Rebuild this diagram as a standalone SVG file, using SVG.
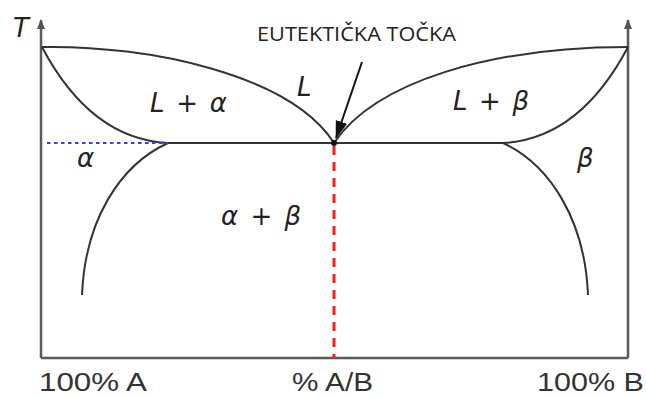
<svg xmlns="http://www.w3.org/2000/svg" width="646" height="398" viewBox="0 0 646 398">
<style>
.axis{stroke:#5a5a5a;stroke-width:2.5;fill:none}
.curve{stroke:#333;stroke-width:2;fill:none}
.lbl{font-family:"DejaVu Sans",sans-serif;font-style:italic;fill:#222;font-size:26px}
.ax{font-family:"Liberation Sans",Arial,sans-serif;fill:#333;font-size:26px}
.title{font-family:"Open Sans","Liberation Sans",sans-serif;fill:#222;font-size:20px}
</style>
<defs>
<marker id="ah" markerWidth="10" markerHeight="10" refX="9" refY="5" orient="auto" markerUnits="userSpaceOnUse" viewBox="0 0 10 10">
<path d="M0,1 L10,5 L0,9 z" fill="#555"/>
</marker>
<marker id="ah2" markerWidth="18" markerHeight="12" refX="17" refY="6" orient="auto" markerUnits="userSpaceOnUse" viewBox="0 0 18 12">
<path d="M0,0 L18,6 L0,12 z" fill="#111"/>
</marker>
</defs>
<g id="axes">
<path class="axis" d="M41,358 L41,20" marker-end="url(#ah)"/>
<path class="axis" d="M628,358 L628,20" marker-end="url(#ah)"/>
<path class="axis" d="M41,358 L628,358"/>
</g>
<g id="curves">
<path class="curve" d="M42,47 C150,45 290,75 334,143"/>
<path class="curve" d="M334,143 C375,82 490,47 628,47"/>
<path class="curve" d="M42,47 C70,100 110,140 168,143"/>
<path class="curve" d="M628,47 C600,100 560,140 503,143"/>
<path class="curve" d="M168,143 L503,143"/>
<path class="curve" d="M168,143 C120,165 85,220 82,295"/>
<path class="curve" d="M503,143 C550,165 585,220 588,295"/>
<path d="M47,143 L168,143" stroke="#3a3aff" stroke-width="1.8" stroke-dasharray="3.5,3.5" fill="none"/>
<path d="M334,146 L334,358" stroke="#ff1a1a" stroke-width="3" stroke-dasharray="9,7" fill="none"/>
</g>
<g id="eutectic">
<circle cx="334" cy="143" r="3" fill="#111"/>
<path d="M362,62 L336,138" stroke="#111" stroke-width="2" fill="none" marker-end="url(#ah2)"/>
<text class="title" x="257" y="41" textLength="199" lengthAdjust="spacingAndGlyphs">EUTEKTIČKA TOČKA</text>
</g>
<g id="labels">
<text class="lbl" x="13" y="37">T</text>
<text class="lbl" x="150" y="112" textLength="77">L + α</text>
<text class="lbl" x="297" y="96">L</text>
<text class="lbl" x="453" y="110" textLength="76">L + β</text>
<text class="lbl" x="77" y="167">α</text>
<text class="lbl" x="577" y="167">β</text>
<text class="lbl" x="221" y="225" textLength="80">α + β</text>
<text class="ax" x="39" y="391" textLength="108" lengthAdjust="spacingAndGlyphs">100% A</text>
<text class="ax" x="292" y="391" textLength="81" lengthAdjust="spacingAndGlyphs">% A/B</text>
<text class="ax" x="537" y="391" textLength="107" lengthAdjust="spacingAndGlyphs">100% B</text>
</g>
</svg>
